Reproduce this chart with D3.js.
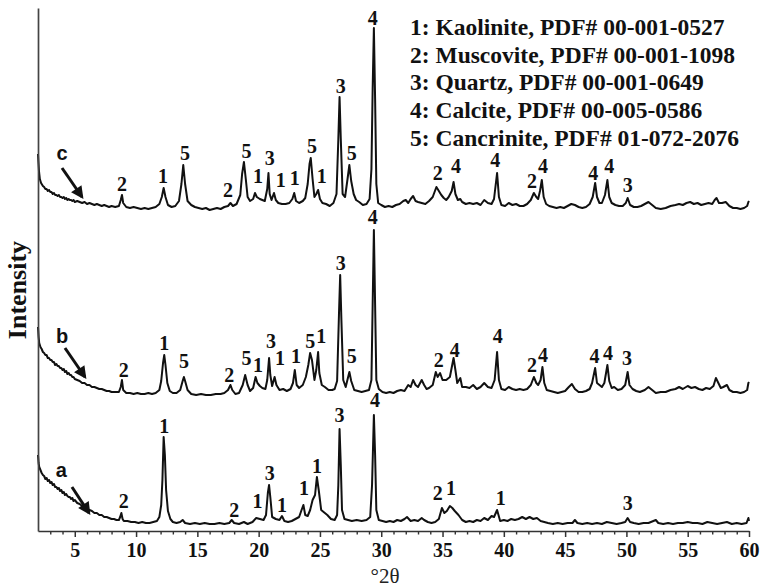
<!DOCTYPE html>
<html>
<head>
<meta charset="utf-8">
<script src="https://cdn.jsdelivr.net/npm/d3@7"></script>
<style>
  html, body { margin: 0; padding: 0; background: #fff; }
  svg { display: block; }
</style>
</head>
<body>
<svg id="chart" width="761" height="587"></svg>
<script>
// ---------------- DATA ----------------
// 2θ range and tick labels
const xDomain = [2, 60];
const xMajorTicks = [5, 10, 15, 20, 25, 30, 35, 40, 45, 50, 55, 60];
const xMinorTicks = [3, 4, 6, 7, 8, 9, 11, 12, 13, 14, 16, 17, 18, 19, 21, 22, 23, 24, 26, 27, 28, 29,
  31, 32, 33, 34, 36, 37, 38, 39, 41, 42, 43, 44, 46, 47, 48, 49, 51, 52, 53, 54, 56, 57, 58, 59];
const xTitle = "°2θ";
const yTitle = "Intensity";

// vertical stacking offsets of the three patterns (a.u.)
const seriesNames = ["a", "b", "c"];
const seriesOffsets = [6, 136, 322];

// Pattern a  [2θ, intensity a.u.]
const patternA = [[2.0,70],[2.05,62],[2.1,58],[2.2,55],[2.3,52],[2.4,50],[2.5,49],[2.6,46],[2.7,47],[2.8,44],[2.9,45],[3.0,42],[3.1,43],[3.2,40],[3.3,41],[3.4,38],[3.5,38],[3.6,36],[3.7,37],[3.8,34],[3.9,35],[4.0,32],[4.1,33],[4.2,30],[4.3,31],[4.4,29],[4.5,28],[4.6,28],[4.7,26],[4.8,27],[4.9,24],[5.0,25],[5.2,22],[5.4,21],[5.6,19],[5.8,18],[6.0,16],[6.2,15],[6.4,14],[6.6,12],[6.8,12],[7.0,10],[7.2,10],[7.4,8],[7.6,8],[7.8,7],[8.0,6],[8.2,6],[8.4,5],[8.6,5],[8.7,8],[8.8,12],[8.9,6],[9.0,4],[9.3,4],[9.6,3],[9.9,3],[10.2,2],[10.5,3],[10.8,2],[11.1,2],[11.4,3],[11.7,4],[11.9,8],[12.05,20],[12.15,45],[12.25,88],[12.35,70],[12.45,35],[12.6,14],[12.8,6],[13.0,3],[13.3,2],[13.6,3],[13.8,5],[14.0,2],[14.4,1],[14.8,2],[15.2,1],[15.6,2],[16.0,1],[16.4,1],[16.8,2],[17.2,1],[17.6,2],[17.8,5],[18.0,2],[18.4,1],[18.8,3],[19.1,1],[19.5,3],[19.8,7],[20.1,6],[20.4,5],[20.6,10],[20.75,32],[20.85,40],[20.95,28],[21.1,8],[21.4,6],[21.7,5],[21.9,9],[22.1,4],[22.4,3],[22.7,4],[23.0,6],[23.3,8],[23.5,15],[23.65,20],[23.8,10],[24.0,9],[24.2,15],[24.4,25],[24.6,30],[24.75,48],[24.9,35],[25.1,15],[25.3,13],[25.6,10],[25.9,6],[26.2,5],[26.4,10],[26.5,40],[26.6,96],[26.7,60],[26.8,15],[27.0,6],[27.3,5],[27.6,4],[28.0,5],[28.4,4],[28.8,5],[29.1,8],[29.25,40],[29.4,110],[29.5,70],[29.6,15],[29.8,5],[30.1,4],[30.4,3],[30.7,4],[31.0,3],[31.3,5],[31.6,4],[31.9,6],[32.1,8],[32.4,4],[32.7,5],[33.0,4],[33.3,7],[33.5,5],[33.8,3],[34.1,2],[34.4,3],[34.7,6],[34.95,17],[35.15,12],[35.35,14],[35.6,19],[35.8,17],[36.0,14],[36.3,10],[36.6,5],[36.9,3],[37.2,4],[37.5,3],[37.8,5],[38.1,4],[38.4,7],[38.7,5],[39.0,9],[39.2,8],[39.45,15],[39.7,4],[40.0,5],[40.3,4],[40.6,6],[40.9,5],[41.2,6],[41.5,8],[41.8,6],[42.1,8],[42.4,6],[42.7,7],[43.0,4],[43.3,3],[43.6,2],[44.0,1],[44.4,2],[44.8,1],[45.2,2],[45.6,2],[45.8,5],[46.0,2],[46.4,1],[46.8,2],[47.2,1],[47.6,2],[48.0,1],[48.4,3],[48.8,2],[49.2,1],[49.6,2],[49.9,3],[50.1,7],[50.3,3],[50.6,2],[51.0,1],[51.4,2],[51.8,2],[52.2,4],[52.4,5],[52.6,2],[53.0,1],[53.4,2],[53.8,1],[54.2,2],[54.6,2],[55.0,3],[55.4,2],[55.8,2],[56.2,1],[56.6,3],[57.0,2],[57.4,1],[57.8,2],[58.2,3],[58.6,1],[59.0,2],[59.4,1],[59.8,2],[59.95,7],[60.0,4]];

// Pattern b
const patternB = [[2.0,68],[2.05,58],[2.1,52],[2.2,48],[2.3,46],[2.4,43],[2.5,42],[2.6,40],[2.7,40],[2.8,37],[2.9,37],[3.0,35],[3.1,35],[3.2,33],[3.3,33],[3.4,30],[3.5,31],[3.6,29],[3.7,29],[3.8,27],[3.9,27],[4.0,25],[4.1,26],[4.2,23],[4.3,24],[4.4,21],[4.5,22],[4.6,20],[4.7,20],[4.8,18],[4.9,18],[5.0,16],[5.2,15],[5.4,14],[5.6,12],[5.8,12],[6.0,10],[6.2,10],[6.4,8],[6.6,8],[6.8,7],[7.0,6],[7.2,6],[7.4,5],[7.6,4],[7.8,4],[8.0,3],[8.3,3],[8.6,3],[8.75,8],[8.85,15],[8.95,5],[9.2,2],[9.5,2],[9.8,1],[10.1,2],[10.4,1],[10.7,1],[11.0,2],[11.3,1],[11.6,2],[11.9,5],[12.05,14],[12.2,32],[12.3,40],[12.4,30],[12.55,12],[12.75,4],[13.0,2],[13.3,2],[13.6,5],[13.8,14],[13.9,18],[14.0,14],[14.2,5],[14.5,1],[14.9,0],[15.3,1],[15.7,0],[16.1,0],[16.5,1],[16.9,1],[17.2,2],[17.5,5],[17.7,10],[17.85,5],[18.1,1],[18.4,2],[18.7,10],[18.9,20],[19.1,10],[19.3,4],[19.55,7],[19.75,18],[19.9,12],[20.1,9],[20.3,7],[20.55,6],[20.7,15],[20.85,37],[20.95,20],[21.1,9],[21.3,18],[21.45,10],[21.7,5],[22.0,6],[22.3,4],[22.6,6],[22.8,12],[22.95,25],[23.1,10],[23.3,7],[23.6,10],[23.85,18],[24.05,30],[24.2,42],[24.35,35],[24.55,15],[24.7,25],[24.85,43],[24.95,22],[25.15,10],[25.4,8],[25.7,5],[26.0,5],[26.2,6],[26.4,14],[26.55,80],[26.65,120],[26.75,75],[26.9,15],[27.1,8],[27.3,18],[27.4,23],[27.55,14],[27.8,5],[28.1,4],[28.4,3],[28.7,4],[29.0,5],[29.2,15],[29.3,90],[29.4,165],[29.5,90],[29.6,15],[29.8,6],[30.1,3],[30.4,2],[30.7,3],[31.0,2],[31.3,4],[31.6,5],[31.9,4],[32.2,10],[32.4,8],[32.6,15],[32.8,10],[33.0,8],[33.3,15],[33.5,10],[33.7,6],[33.9,7],[34.2,10],[34.45,23],[34.6,18],[34.8,22],[35.0,15],[35.3,15],[35.6,18],[35.9,37],[36.05,25],[36.2,12],[36.45,17],[36.6,8],[36.9,8],[37.2,7],[37.5,10],[37.8,6],[38.1,8],[38.4,12],[38.7,8],[39.0,7],[39.25,15],[39.45,43],[39.6,15],[39.8,6],[40.1,5],[40.4,8],[40.7,6],[41.0,5],[41.3,6],[41.6,5],[41.9,6],[42.2,10],[42.45,18],[42.65,12],[42.8,10],[43.0,15],[43.15,28],[43.3,12],[43.5,5],[43.8,4],[44.1,3],[44.4,2],[44.7,3],[45.0,4],[45.3,8],[45.55,11],[45.8,6],[46.1,3],[46.4,3],[46.7,4],[47.0,6],[47.2,12],[47.45,27],[47.6,12],[47.8,10],[48.0,8],[48.2,12],[48.45,30],[48.6,14],[48.8,7],[49.0,8],[49.3,5],[49.6,6],[49.9,10],[50.1,23],[50.25,10],[50.5,6],[50.8,4],[51.1,3],[51.5,5],[51.8,8],[52.1,5],[52.4,2],[52.8,3],[53.2,3],[53.6,5],[54.0,6],[54.3,8],[54.6,6],[55.0,9],[55.3,7],[55.6,8],[55.9,6],[56.2,5],[56.5,7],[56.8,6],[57.1,9],[57.3,17],[57.5,12],[57.7,7],[57.9,8],[58.2,10],[58.4,5],[58.7,3],[59.0,3],[59.3,2],[59.6,3],[59.85,5],[59.95,12],[60.0,13]];

// Pattern c
const patternC = [[2.0,55],[2.03,48],[2.08,38],[2.15,30],[2.25,26],[2.4,23],[2.5,22],[2.6,20],[2.7,20],[2.8,18],[2.9,19],[3.0,17],[3.1,17],[3.2,15],[3.3,16],[3.4,14],[3.5,14],[3.6,13],[3.7,14],[3.8,12],[3.9,12],[4.0,11],[4.1,12],[4.2,10],[4.3,11],[4.4,9],[4.5,10],[4.6,9],[4.7,9],[4.8,8],[4.9,9],[5.0,7],[5.2,8],[5.4,7],[5.6,6],[5.8,7],[6.0,5],[6.2,6],[6.4,5],[6.6,4],[6.8,5],[7.0,4],[7.2,3],[7.4,4],[7.6,3],[7.8,2],[8.0,3],[8.3,2],[8.6,3],[8.75,9],[8.85,14],[8.95,6],[9.2,2],[9.5,1],[9.8,2],[10.1,1],[10.4,0],[10.7,1],[11.0,0],[11.3,1],[11.6,2],[11.9,5],[12.1,12],[12.25,21],[12.4,12],[12.6,4],[12.9,2],[13.2,3],[13.5,8],[13.7,25],[13.85,44],[14.0,25],[14.2,8],[14.5,4],[14.8,2],[15.1,1],[15.4,0],[15.7,1],[16.0,-1],[16.3,0],[16.6,1],[16.9,0],[17.2,2],[17.5,3],[17.7,6],[17.9,3],[18.2,5],[18.5,14],[18.65,35],[18.8,47],[18.95,30],[19.1,12],[19.3,8],[19.55,10],[19.7,16],[19.85,12],[20.1,10],[20.3,9],[20.5,8],[20.7,20],[20.8,36],[20.9,15],[21.05,9],[21.25,16],[21.4,9],[21.6,6],[21.9,5],[22.2,5],[22.5,6],[22.75,10],[22.9,16],[23.05,8],[23.3,6],[23.6,8],[23.8,11],[24.0,25],[24.15,45],[24.25,51],[24.4,30],[24.55,12],[24.7,15],[24.85,19],[25.0,10],[25.2,6],[25.5,5],[25.8,3],[26.1,6],[26.35,15],[26.5,70],[26.6,112],[26.7,70],[26.85,15],[27.05,12],[27.25,30],[27.4,44],[27.55,28],[27.75,15],[27.95,9],[28.2,7],[28.5,4],[28.8,5],[29.05,10],[29.2,40],[29.3,120],[29.4,181],[29.5,110],[29.6,25],[29.75,6],[30.0,4],[30.3,2],[30.6,3],[30.9,2],[31.2,4],[31.5,5],[31.8,8],[32.0,9],[32.2,6],[32.4,10],[32.6,13],[32.8,8],[33.0,7],[33.3,6],[33.6,5],[33.9,8],[34.2,12],[34.5,22],[34.7,18],[34.9,14],[35.1,11],[35.3,9],[35.5,12],[35.75,18],[35.9,27],[36.05,15],[36.25,9],[36.45,10],[36.6,7],[36.9,5],[37.2,6],[37.5,5],[37.8,6],[38.1,4],[38.4,9],[38.7,6],[39.0,5],[39.2,10],[39.45,36],[39.6,12],[39.8,4],[40.1,3],[40.4,6],[40.7,4],[41.0,5],[41.3,3],[41.6,3],[41.9,5],[42.2,9],[42.45,16],[42.65,12],[42.8,10],[42.95,18],[43.1,29],[43.25,12],[43.45,5],[43.7,3],[44.0,2],[44.3,1],[44.6,2],[44.9,1],[45.2,3],[45.5,5],[45.8,4],[46.1,2],[46.4,1],[46.7,2],[47.0,5],[47.25,12],[47.45,26],[47.6,12],[47.8,6],[48.0,6],[48.25,14],[48.45,29],[48.6,12],[48.8,6],[49.1,4],[49.4,3],[49.7,3],[49.95,6],[50.1,11],[50.3,4],[50.6,2],[50.9,2],[51.2,3],[51.5,5],[51.8,7],[52.1,4],[52.4,1],[52.8,0],[53.2,1],[53.6,3],[54.0,4],[54.3,5],[54.6,4],[54.9,6],[55.2,7],[55.5,5],[55.8,6],[56.1,4],[56.4,5],[56.7,6],[57.0,5],[57.2,9],[57.35,11],[57.55,6],[57.8,6],[58.1,7],[58.4,3],[58.7,1],[59.0,1],[59.3,0],[59.6,1],[59.85,3],[59.95,7],[60.0,8]];

// Phase labels above peaks: [2θ, height above own pattern (a.u.), phase number]
const labelsA = [[9.0,17,"2"],[12.3,92,"1"],[18.0,8,"2"],[19.9,17,"1"],[20.9,45,"3"],[21.9,13,"1"],[23.7,30,"1"],[24.75,52,"1"],[26.6,103,"3"],[29.5,118,"4"],[34.6,25,"2"],[35.7,30,"1"],[39.75,20,"1"],[50.1,15,"3"]];
const labelsB = [[9.0,18,"2"],[12.3,45,"1"],[13.9,27,"5"],[17.6,13,"2"],[19.0,30,"5"],[19.95,23,"1"],[21.0,47,"3"],[21.75,30,"1"],[23.05,32,"1"],[24.2,47,"5"],[25.1,52,"1"],[26.7,125,"3"],[27.6,32,"5"],[29.3,171,"4"],[34.7,28,"2"],[36.0,38,"4"],[39.5,52,"4"],[42.3,23,"2"],[43.2,33,"4"],[47.4,32,"4"],[48.5,35,"4"],[50.05,30,"3"]];
const labelsC = [[8.85,18,"2"],[12.2,26,"1"],[14.0,49,"5"],[17.5,12,"2"],[19.0,51,"5"],[19.95,26,"1"],[20.9,44,"3"],[21.8,22,"1"],[22.95,24,"1"],[24.35,56,"5"],[25.15,26,"1"],[26.7,116,"3"],[27.6,49,"5"],[29.3,184,"4"],[34.6,29,"2"],[36.1,36,"4"],[39.3,42,"4"],[42.3,21,"2"],[43.2,36,"4"],[47.3,29,"4"],[48.6,36,"4"],[50.1,17,"3"]];

// Sample letters and arrows: [letter 2θ, letter height, arrow start 2θ, start h, arrow end 2θ, end h]
const sampleTags = [[3.9,48,4.77,38,6.16,12],[3.96,52,4.2,47,5.83,18],[3.96,49,3.96,41,5.59,12]];

// Legend entries
const legendEntries = [
  "1: Kaolinite, PDF# 00-001-0527",
  "2: Muscovite, PDF# 00-001-1098",
  "3: Quartz, PDF# 00-001-0649",
  "4: Calcite, PDF# 00-005-0586",
  "5: Cancrinite, PDF# 01-072-2076"
];

// ---------------- DRAWING ----------------
const svg = d3.select("#chart");
const serif = "'Liberation Serif','Times New Roman',serif";
const sans = "'Liberation Sans',Arial,sans-serif";

const x = d3.scaleLinear().domain(xDomain).range([38, 749]);
const y = d3.scaleLinear().domain([0, 523]).range([531, 8]);

const patterns = [patternA, patternB, patternC];
const labelSets = [labelsA, labelsB, labelsC];

svg.append("defs").append("marker")
  .attr("id", "arrow").attr("viewBox", "0 0 10 10")
  .attr("refX", 8).attr("refY", 5)
  .attr("markerWidth", 5).attr("markerHeight", 4.2)
  .attr("markerUnits", "strokeWidth")
  .attr("orient", "auto")
  .append("path").attr("d", "M0,0 L10,5 L0,10 z").attr("fill", "#111");

const line = d3.line().x(d => x(d[0])).y(d => d[1]);

patterns.forEach((p, i) => {
  const off = seriesOffsets[i];
  svg.append("path")
    .datum(p.map(d => [d[0], y(d[1] + off)]))
    .attr("fill", "none")
    .attr("stroke", "#111")
    .attr("stroke-width", 2)
    .attr("stroke-linejoin", "round")
    .attr("d", line);

  svg.append("g").selectAll("text").data(labelSets[i]).join("text")
    .attr("x", d => x(d[0]))
    .attr("y", d => y(d[1] + off))
    .attr("text-anchor", "middle")
    .attr("font-family", serif)
    .attr("font-weight", "bold")
    .attr("font-size", 20)
    .attr("fill", "#111")
    .text(d => d[2]);

  const t = sampleTags[i];
  svg.append("text")
    .attr("x", x(t[0])).attr("y", y(t[1] + off))
    .attr("text-anchor", "middle")
    .attr("font-family", sans).attr("font-weight", "bold").attr("font-size", 20)
    .attr("fill", "#111")
    .text(seriesNames[i]);
  svg.append("line")
    .attr("x1", x(t[2])).attr("y1", y(t[3] + off))
    .attr("x2", x(t[4])).attr("y2", y(t[5] + off))
    .attr("stroke", "#111").attr("stroke-width", 3)
    .attr("marker-end", "url(#arrow)");
});

// X axis
const gx = svg.append("g").attr("transform", `translate(0,${y(0)})`);
gx.call(d3.axisBottom(x).tickValues(xMajorTicks).tickSize(6).tickSizeOuter(0).tickFormat(d3.format("d")));
gx.select(".domain").attr("stroke", "#333").attr("stroke-width", 1.7);
gx.selectAll(".tick line").attr("stroke", "#333").attr("stroke-width", 1.5);
gx.selectAll(".tick text")
  .attr("font-family", serif).attr("font-weight", "bold").attr("font-size", 20)
  .attr("fill", "#111").attr("dy", null).attr("y", 26);

const gxm = svg.append("g").attr("transform", `translate(0,${y(0)})`);
gxm.call(d3.axisBottom(x).tickValues(xMinorTicks).tickSize(3.5).tickSizeOuter(0).tickFormat(""));
gxm.select(".domain").remove();
gxm.selectAll(".tick line").attr("stroke", "#333").attr("stroke-width", 1.4);

// Y axis (line only)
const gy = svg.append("g").attr("transform", `translate(${x(xDomain[0])},0)`);
gy.call(d3.axisLeft(y).tickValues([]).tickSizeOuter(0));
gy.select(".domain").attr("stroke", "#444").attr("stroke-width", 1.7);

// Axis titles
svg.append("text")
  .attr("x", 385).attr("y", 583)
  .attr("text-anchor", "middle")
  .attr("font-family", serif).attr("font-size", 21).attr("fill", "#222")
  .text(xTitle);

svg.append("text")
  .attr("transform", "translate(26,290) rotate(-90)")
  .attr("text-anchor", "middle")
  .attr("font-family", serif).attr("font-weight", "bold").attr("font-size", 26).attr("fill", "#111")
  .text(yTitle);

// Legend
svg.append("g").selectAll("text").data(legendEntries).join("text")
  .attr("x", 410)
  .attr("y", (d, i) => 35 + i * 27.7)
  .attr("font-family", serif).attr("font-weight", "bold").attr("font-size", 23.5)
  .attr("fill", "#111")
  .text(d => d);
</script>
</body>
</html>
